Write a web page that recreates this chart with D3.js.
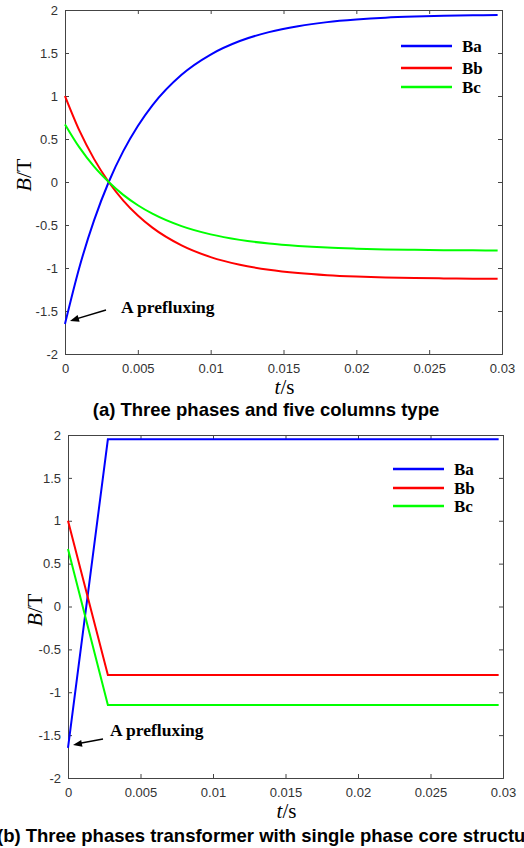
<!DOCTYPE html>
<html>
<head>
<meta charset="utf-8">
<script src="https://cdn.jsdelivr.net/npm/d3@7"></script>
<style>
  body { margin: 0; background: #fff; }
  svg { display: block; }
  .tick text { font-family: "Liberation Sans", Arial, sans-serif; font-size: 13px; fill: #333; }
</style>
</head>
<body>
<div id="chart"></div>
<script>
// panel (a) – three phases, five columns
const timeA = [0, 0.001, 0.002, 0.003, 0.004, 0.005, 0.006, 0.008, 0.010, 0.012, 0.014, 0.016, 0.018, 0.020, 0.022, 0.024, 0.026, 0.028, 0.0297];
const baA = [-1.65, -0.985, -0.444, 0.0, 0.359, 0.652, 0.892, 1.247, 1.482, 1.639, 1.743, 1.812, 1.859, 1.889, 1.910, 1.923, 1.932, 1.938, 1.942];
const bbA = [1.0, 0.594, 0.266, 0.0, -0.216, -0.390, -0.531, -0.737, -0.873, -0.962, -1.020, -1.058, -1.083, -1.099, -1.110, -1.117, -1.121, -1.124, -1.126];
const bcA = [0.67, 0.399, 0.178, 0.0, -0.150, -0.270, -0.368, -0.513, -0.609, -0.673, -0.716, -0.744, -0.763, -0.775, -0.784, -0.789, -0.793, -0.795, -0.797];

// panel (b) – single phase core structure
const timeB = [0, 0.00275, 0.0297];
const baB = [-1.65, 1.95, 1.95];
const bbB = [1.0, -0.80, -0.80];
const bcB = [0.67, -1.15, -1.15];

const seriesNames = ["Ba", "Bb", "Bc"];
const seriesColors = ["#0000ff", "#ff0000", "#00ff00"];
const xTicks = [0, 0.005, 0.01, 0.015, 0.02, 0.025, 0.03];
const yTicks = [-2, -1.5, -1, -0.5, 0, 0.5, 1, 1.5, 2];
const captionA = "(a) Three phases and five columns type";
const captionB = "(b) Three phases transformer with single phase core structure";

const serif = "'Liberation Serif', 'Times New Roman', serif";
const sans = "'Liberation Sans', Arial, sans-serif";

const svg = d3.select("#chart").append("svg")
    .attr("width", 524)
    .attr("height", 848);

function drawPanel(cfg) {
    const x = d3.scaleLinear().domain([0, 0.03]).range([cfg.left, cfg.right]);
    const y = d3.scaleLinear().domain([-2, 2]).range([cfg.bottom, cfg.top]);
    const g = svg.append("g");

    const fmt = d => d === 0 ? "0" : String(d);

    // axes, ticks inward like matlab
    g.append("g")
        .attr("transform", `translate(0,${cfg.bottom})`)
        .call(d3.axisBottom(x).tickValues(xTicks).tickSize(-4).tickPadding(10).tickFormat(fmt));
    g.append("g")
        .attr("transform", `translate(0,${cfg.top})`)
        .call(d3.axisTop(x).tickValues(xTicks).tickSize(-4).tickFormat(""));
    g.append("g")
        .attr("transform", `translate(${cfg.left},0)`)
        .call(d3.axisLeft(y).tickValues(yTicks).tickSize(-4).tickPadding(7).tickFormat(fmt));
    g.append("g")
        .attr("transform", `translate(${cfg.right},0)`)
        .call(d3.axisRight(y).tickValues(yTicks).tickSize(-4).tickFormat(""));
    g.selectAll(".domain").attr("stroke", "#444");
    g.selectAll(".tick line").attr("stroke", "#444");

    const line = d3.line()
        .x(d => x(d[0]))
        .y(d => y(d[1]))
        .curve(cfg.curve);

    cfg.series.forEach((vals, i) => {
        g.append("path")
            .datum(cfg.time.map((t, j) => [t, vals[j]]))
            .attr("fill", "none")
            .attr("stroke", seriesColors[i])
            .attr("stroke-width", 2)
            .attr("d", line);
    });

    // legend
    seriesNames.forEach((name, i) => {
        const ly = cfg.legendY[i];
        g.append("line")
            .attr("x1", cfg.legendX).attr("x2", cfg.legendX + 51)
            .attr("y1", ly).attr("y2", ly)
            .attr("stroke", seriesColors[i]).attr("stroke-width", 2.5);
        g.append("text")
            .attr("x", cfg.legendX + 61).attr("y", ly + 6)
            .attr("font-family", serif)
            .attr("font-weight", "bold").attr("font-size", 17)
            .text(name);
    });

    // annotation
    const ax = x(0), ay = y(cfg.series[0][0]);
    g.append("text")
        .attr("x", cfg.noteX).attr("y", cfg.noteY)
        .attr("font-family", serif)
        .attr("font-weight", "bold").attr("font-size", 17.5)
        .text("A prefluxing");
    g.append("line")
        .attr("x1", cfg.arrowFrom[0]).attr("y1", cfg.arrowFrom[1])
        .attr("x2", ax + 8).attr("y2", ay - 4)
        .attr("stroke", "#000").attr("stroke-width", 1.5);
    const ang = Math.atan2((ay - 4) - cfg.arrowFrom[1], (ax + 8) - cfg.arrowFrom[0]);
    const tip = [ax + 5, ay - 3];
    const hl = 9, hw = 3.5;
    const bx = tip[0] - hl * Math.cos(ang), by = tip[1] - hl * Math.sin(ang);
    g.append("path")
        .attr("d", `M${tip[0]},${tip[1]}L${bx - hw * Math.sin(ang)},${by + hw * Math.cos(ang)}L${bx + hw * Math.sin(ang)},${by - hw * Math.cos(ang)}Z`)
        .attr("fill", "#000");

    // axis titles
    const yl = g.append("text")
        .attr("transform", `translate(${cfg.yLabelX},${cfg.yLabelY}) rotate(-90)`)
        .attr("text-anchor", "middle")
        .attr("font-family", serif)
        .attr("font-size", 22);
    yl.append("tspan").attr("font-style", "italic").text("B");
    yl.append("tspan").text("/T");

    const xl = g.append("text")
        .attr("x", (cfg.left + cfg.right) / 2 + 1).attr("y", cfg.bottom + 40)
        .attr("text-anchor", "middle")
        .attr("font-family", serif)
        .attr("font-size", 21);
    xl.append("tspan").attr("font-style", "italic").text("t");
    xl.append("tspan").text("/s");

    g.append("text")
        .attr("x", cfg.captionX).attr("y", cfg.bottom + cfg.captionDy)
        .attr("text-anchor", cfg.captionAnchor)
        .attr("font-family", sans)
        .attr("font-weight", "bold").attr("font-size", 18.5)
        .text(cfg.caption);
}

drawPanel({
    left: 65, right: 502, top: 10, bottom: 354,
    time: timeA, series: [baA, bbA, bcA], curve: d3.curveMonotoneX,
    legendX: 401, legendY: [46, 68, 87],
    noteX: 121, noteY: 313, arrowFrom: [106, 310],
    yLabelX: 31, yLabelY: 175,
    caption: captionA, captionX: 266, captionAnchor: "middle", captionDy: 62
});

drawPanel({
    left: 68, right: 503, top: 435, bottom: 778,
    time: timeB, series: [baB, bbB, bcB], curve: d3.curveLinear,
    legendX: 393, legendY: [469, 488, 506],
    noteX: 110, noteY: 736, arrowFrom: [103, 739],
    yLabelX: 42, yLabelY: 610,
    caption: captionB, captionX: -3, captionAnchor: "start", captionDy: 64
});
</script>
</body>
</html>
